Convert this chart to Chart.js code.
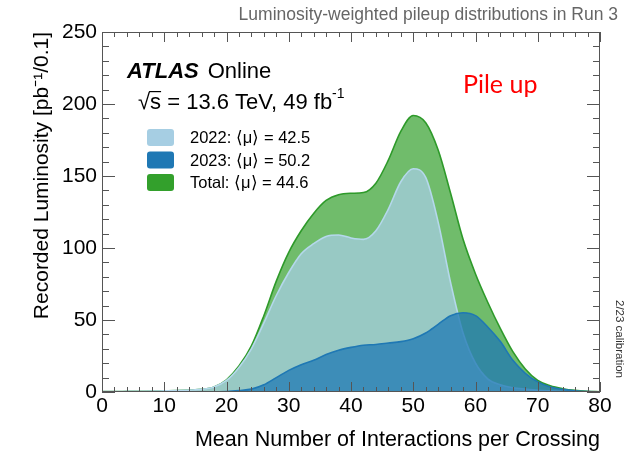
<!DOCTYPE html>
<html>
<head>
<meta charset="utf-8">
<script src="https://cdn.jsdelivr.net/npm/chart.js@4"></script>
<style>
  html, body { margin: 0; padding: 0; background: #fff; }
</style>
</head>
<body>
<canvas id="pileup" width="634" height="455"></canvas>
<script>
// mean number of interactions per crossing (bin centres)
const mu = [0, 2, 4, 6, 8, 10, 12, 14, 16, 18, 20, 22, 24, 26, 28, 30, 32, 34, 36, 38, 40,
            42, 44, 46, 48, 50, 52, 54, 56, 58, 60, 62, 64, 66, 68, 70, 72, 74, 76, 78, 80];

// recorded luminosity [pb^-1 / 0.1]
const lumi2022 = [0.3, 0.3, 0.4, 0.5, 0.6, 0.8, 1.0, 1.3, 1.8, 3.5, 8, 17, 30, 48, 67, 83, 96, 103, 108, 109, 107,
                  106, 112, 127, 146, 155, 149, 118, 76, 41, 20, 9, 5, 3, 2, 1.2, 0.8, 0.5, 0.3, 0.2, 0.1];
const lumi2023 = [0, 0, 0, 0, 0, 0, 0, 0, 0, 0, 0.3, 1, 2, 5, 10, 15, 19, 22, 26, 29, 31,
                  32.5, 33, 34, 35, 37, 41, 47, 53, 55, 53, 45, 35, 22, 13, 7, 3.5, 1.8, 0.8, 0.3, 0.1];
const lumiTotal = [0.3, 0.3, 0.4, 0.5, 0.6, 0.8, 1.0, 1.3, 1.8, 3.5, 8.5, 18, 32, 53, 77, 97, 112, 124, 133, 137, 138,
                   138.5, 145, 161, 181, 192, 187, 168, 138, 106, 82, 62, 44, 28, 16, 8, 4.3, 2.3, 1.1, 0.5, 0.2];

const legendRows = [
  { label: '2022: \u27E8\u03BC\u27E9 = 42.5', colour: '#a6cee3' },
  { label: '2023: \u27E8\u03BC\u27E9 = 50.2', colour: '#1f78b4' },
  { label: 'Total: \u27E8\u03BC\u27E9 = 44.6', colour: '#33a02c' },
];

const FONT = '"Liberation Sans", Arial, Helvetica, sans-serif';
const pts = vals => mu.map((m, i) => ({ x: m, y: vals[i] }));

// ROOT-style frame: box with inward ticks on all four sides
const frame = {
  id: 'frame',
  afterDatasetsDraw(chart) {
    const { ctx, chartArea: a, scales: { x, y } } = chart;
    ctx.save();
    ctx.strokeStyle = '#555';
    ctx.lineWidth = 1;
    ctx.strokeRect(a.left + 0.5, a.top + 0.5, a.right - a.left - 1, a.bottom - a.top - 1);
    ctx.beginPath();
    for (let v = 0; v <= 80; v += 2) {
      const px = Math.round(x.getPixelForValue(v)) + 0.5;
      const len = v % 10 === 0 ? 10 : 5;
      ctx.moveTo(px, a.bottom); ctx.lineTo(px, a.bottom - len);
      ctx.moveTo(px, a.top); ctx.lineTo(px, a.top + len);
    }
    for (let v = 0; v <= 250; v += 10) {
      const py = Math.round(y.getPixelForValue(v)) + 0.5;
      const len = v % 50 === 0 ? 13 : 7;
      ctx.moveTo(a.left, py); ctx.lineTo(a.left + len, py);
      ctx.moveTo(a.right, py); ctx.lineTo(a.right - len, py);
    }
    ctx.stroke();
    ctx.restore();
  },
  afterDraw(chart) {
    const { ctx } = chart;
    ctx.save();
    ctx.textBaseline = 'alphabetic';

    // header
    ctx.fillStyle = '#666';
    ctx.font = '17.5px ' + FONT;
    ctx.textAlign = 'right';
    ctx.fillText('Luminosity-weighted pileup distributions in Run 3', 618, 20);

    // ATLAS Online
    ctx.textAlign = 'left';
    ctx.fillStyle = '#000';
    ctx.font = 'italic bold 22px ' + FONT;
    ctx.fillText('ATLAS', 127, 78);
    const w = ctx.measureText('ATLAS').width;
    ctx.font = '22px ' + FONT;
    ctx.fillText('Online', 127 + w + 9, 78);

    // sqrt(s) line
    ctx.font = '22px ' + FONT;
    let cx = 138;
    ctx.fillText('\u221A', cx, 109);
    cx += ctx.measureText('\u221A').width;
    const sw = ctx.measureText('s').width;
    ctx.fillText('s', cx, 109);
    ctx.fillRect(cx - 1, 91, sw + 1, 1.2);
    cx += sw;
    const main = ' = 13.6 TeV, 49 fb';
    ctx.fillText(main, cx, 109);
    cx += ctx.measureText(main).width;
    ctx.font = '14px ' + FONT;
    ctx.fillText('-1', cx, 98);

    // legend
    legendRows.forEach((r, i) => {
      const cy = 137 + i * 22.5;
      ctx.fillStyle = r.colour;
      ctx.beginPath();
      ctx.roundRect(147, cy - 8, 27, 17, 3);
      ctx.fill();
      ctx.fillStyle = '#000';
      ctx.font = '16.5px ' + FONT;
      ctx.fillText(r.label, 190, cy + 6);
    });

    // annotation
    ctx.fillStyle = '#ff0000';
    ctx.font = '25px Lato, "Open Sans", sans-serif';
    ctx.fillText('Pile up', 463, 93);

    // calibration tag
    ctx.translate(616, 300);
    ctx.rotate(Math.PI / 2);
    ctx.fillStyle = '#333';
    ctx.font = '11.5px ' + FONT;
    ctx.fillText('2/23 calibration', 0, 0);
    ctx.restore();
  }
};

new Chart(document.getElementById('pileup'), {
  type: 'line',
  data: {
    datasets: [
      {
        label: '2023', data: pts(lumi2023), order: 0,
        borderColor: '#1f78b4', backgroundColor: 'rgba(31,120,180,0.75)',
      },
      {
        label: '2022', data: pts(lumi2022), order: 1,
        borderColor: '#b5d8ec', backgroundColor: 'rgba(166,206,227,0.75)',
      },
      {
        label: 'Total', data: pts(lumiTotal), order: 2,
        borderColor: '#2e9a2a', backgroundColor: 'rgba(51,160,44,0.7)',
      },
    ]
  },
  options: {
    responsive: false,
    animation: false,
    devicePixelRatio: 1,
    layout: { padding: { top: 32, right: 34, left: 0, bottom: 0 } },
    elements: {
      point: { radius: 0 },
      line: { fill: 'origin', borderWidth: 1.6, tension: 0.4, cubicInterpolationMode: 'monotone' }
    },
    plugins: { legend: { display: false }, tooltip: { enabled: false } },
    scales: {
      x: {
        type: 'linear', min: 0, max: 80,
        grid: { display: false, drawTicks: false },
        border: { display: false },
        afterFit(s) { s.height = 63; },
        ticks: { stepSize: 10, padding: 2, color: '#000', font: { family: FONT, size: 21 } },
        title: {
          display: true, text: 'Mean Number of Interactions per Crossing', align: 'end',
          color: '#000', font: { family: FONT, size: 21.5 }, padding: { top: 0, bottom: 2 }
        }
      },
      y: {
        min: 0, max: 250,
        grid: { display: false, drawTicks: false },
        border: { display: false },
        afterFit(s) { s.width = 102; },
        ticks: { stepSize: 50, padding: 5, color: '#000', font: { family: FONT, size: 21 } },
        title: {
          display: true, text: 'Recorded Luminosity [pb\u207B\u00B9/0.1]', align: 'end',
          color: '#000', font: { family: FONT, size: 21 }, padding: { top: 30, bottom: 0 }
        }
      }
    }
  },
  plugins: [frame]
});
</script>
</body>
</html>
